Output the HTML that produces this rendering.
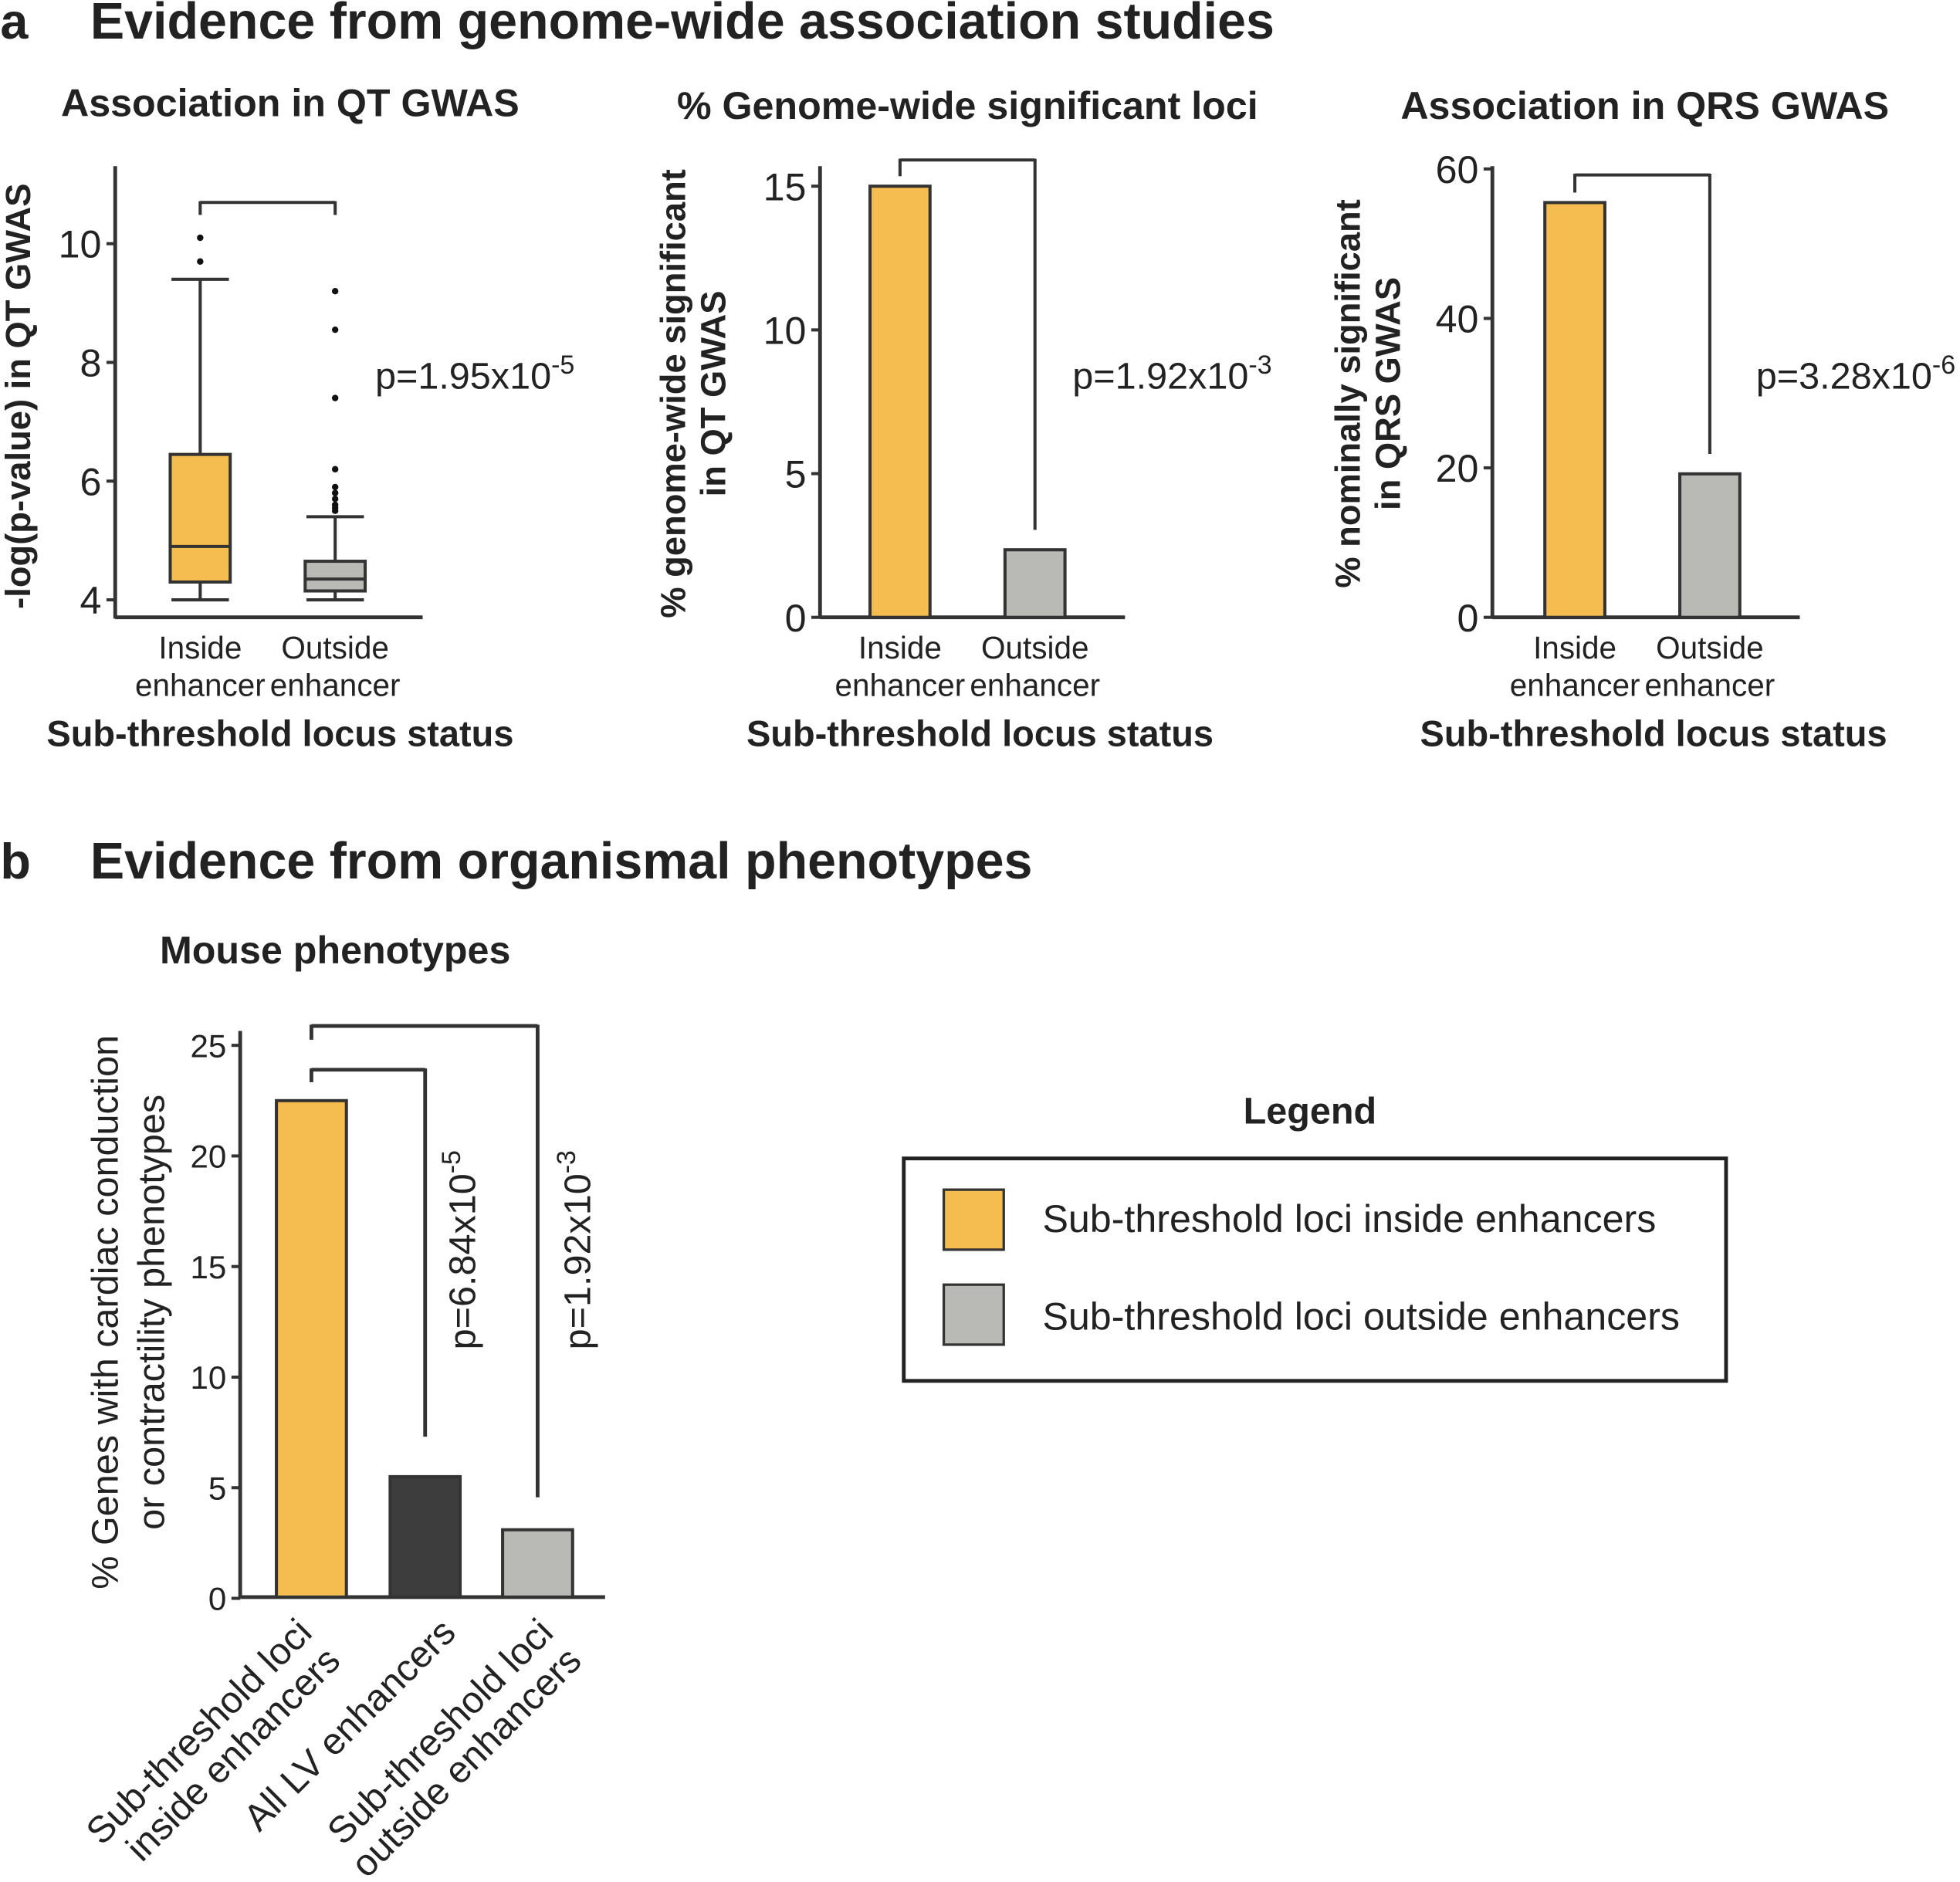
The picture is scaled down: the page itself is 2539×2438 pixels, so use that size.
<!DOCTYPE html>
<html><head><meta charset="utf-8">
<style>
html,body{margin:0;padding:0;background:#fff;}
svg{display:block;font-family:"Liberation Sans",Arial,sans-serif;}
</style></head>
<body>
<svg id="fig" width="2539" height="2438" viewBox="0 0 1568 1506" xmlns="http://www.w3.org/2000/svg">
<g>
<text x="0" y="31" font-size="40" font-weight="bold" fill="#222">a</text>
<text x="72" y="31" font-size="41" font-weight="bold" fill="#222">Evidence from genome-wide association studies</text>
</g>
<g>
<text x="0" y="703" font-size="40" font-weight="bold" fill="#222">b</text>
<text x="72" y="703" font-size="41" font-weight="bold" fill="#222">Evidence from organismal phenotypes</text>
</g>
<g id="g1"></g>
<g id="g2"></g>
<g id="g3"></g>
<g id="g4"></g>
<g>
<text x="1048" y="899" font-size="30" font-weight="bold" text-anchor="middle" fill="#222">Legend</text>
<rect x="723" y="927" width="658" height="178" fill="none" stroke="#222" stroke-width="3"/>
<rect x="755" y="952" width="48" height="48" fill="#f5bd50" stroke="#333" stroke-width="2"/>
<text x="834" y="986" font-size="31" fill="#222">Sub-threshold loci inside enhancers</text>
<rect x="755" y="1028" width="48" height="48" fill="#b9bab5" stroke="#333" stroke-width="2"/>
<text x="834" y="1064" font-size="31" fill="#222">Sub-threshold loci outside enhancers</text>
</g>
</svg>
<script>
// ---- data ----
const boxCats = ["Inside", "Outside"];
const boxQ1 = [4.3, 4.15];
const boxMed = [4.9, 4.35];
const boxQ3 = [6.45, 4.65];
const boxLo = [4.0, 4.0];
const boxHi = [9.4, 5.4];
const outInside = [9.7, 10.1];
const outOutside = [5.5, 5.55, 5.6, 5.7, 5.8, 5.9, 6.2, 7.4, 8.55, 9.2];
const boxTicks = [4, 6, 8, 10];

const gwValues = [15, 2.35];
const gwTicks = [0, 5, 10, 15];
const qrsValues = [55.5, 19.2];
const qrsTicks = [0, 20, 40, 60];

const mouseCats = ["Sub-threshold loci|inside enhancers", "All LV enhancers", "Sub-threshold loci|outside enhancers"];
const mouseValues = [22.5, 5.5, 3.1];
const mouseTicks = [0, 5, 10, 15, 20, 25];

const NS = "http://www.w3.org/2000/svg";
const ORANGE = "#f5bd50", GRAY = "#b9bab5", DARK = "#3d3d3d", INK = "#333";
function mk(parent, tag, attrs, text) {
  const e = document.createElementNS(NS, tag);
  for (const k in attrs) e.setAttribute(k, attrs[k]);
  if (text !== undefined) e.textContent = text;
  parent.appendChild(e);
  return e;
}
function line(p, x1, y1, x2, y2, w) { return mk(p, "line", {x1, y1, x2, y2, stroke: INK, "stroke-width": w || 2.5}); }
function pText(p, x, y, base, exp, rot) {
  const t = mk(p, "text", {x, y, "font-size": 30, fill: "#222"});
  if (rot) t.setAttribute("transform", rot);
  
  
  mk(t, "tspan", {}, base);
  mk(t, "tspan", {dy: -12, "font-size": 21}, exp);
  return t;
}
function axes(g, x0, yTop, yBot, xEnd, ticks, yf, fs) {
  const a = mk(g, "g", {});
  
  
  line(a, x0, yTop, x0, yBot + 1, 3);
  ticks.forEach(v => {
    line(a, x0 - 7, yf(v), x0, yf(v), 2.5);
    const t = mk(a, "text", {x: x0 - 11, y: yf(v) + fs * 0.36, "font-size": fs, "text-anchor": "end", fill: "#222"}, String(v));
    
    
  });
  const xa = mk(g, "line", {x1: x0, y1: yBot, x2: xEnd, y2: yBot, stroke: INK, "stroke-width": 3});
  
  
}
function title(g, x, y, s) {
  const t = mk(g, "text", {x, y, "font-size": 31, "font-weight": "bold", "text-anchor": "middle", fill: "#222"}, s);
  
  
}
function ylab(g, x, y, lines, bold, fs) {
  lines.forEach((s, i) => {
    const t = mk(g, "text", {x: 0, y: 0, "font-size": fs, "font-weight": bold ? "bold" : "normal", "text-anchor": "middle", fill: "#222", transform: `translate(${x[i]},${y}) rotate(-90)`}, s);
    
    
  });
}
function xcats(g, xs) {
  xs.forEach((x, i) => {
    const t1 = mk(g, "text", {x, y: 527, "font-size": 25, "text-anchor": "middle", fill: "#222"}, i === 0 ? "Inside" : "Outside");
    
    
    const t2 = mk(g, "text", {x, y: 557, "font-size": 25, "text-anchor": "middle", fill: "#222"}, "enhancer");
    
    
  });
}
function xtitle(g, x) {
  const t = mk(g, "text", {x, y: 597, "font-size": 29, "font-weight": "bold", "text-anchor": "middle", fill: "#222"}, "Sub-threshold locus status");
  
  
}

// ---- panel 1: boxplot ----
(function () {
  const g = document.getElementById("g1");
  const y = v => 480 - (v - 4) * 47.5;
  title(g, 232, 93, "Association in QT GWAS");
  axes(g, 92, 133, 494, 338, boxTicks, y, 31);
  const cx = [160, 268], fills = [ORANGE, GRAY];
  const outs = [outInside, outOutside];
  boxCats.forEach((c, i) => {
    const b = mk(g, "g", {});
    
    
    line(b, cx[i], y(boxLo[i]), cx[i], y(boxQ1[i]));
    line(b, cx[i], y(boxQ3[i]), cx[i], y(boxHi[i]));
    line(b, cx[i] - 23, y(boxLo[i]), cx[i] + 23, y(boxLo[i]));
    line(b, cx[i] - 23, y(boxHi[i]), cx[i] + 23, y(boxHi[i]));
    mk(b, "rect", {x: cx[i] - 24, y: y(boxQ3[i]), width: 48, height: y(boxQ1[i]) - y(boxQ3[i]), fill: fills[i], stroke: INK, "stroke-width": 2.5});
    line(b, cx[i] - 24, y(boxMed[i]), cx[i] + 24, y(boxMed[i]));
    outs[i].forEach(v => {
      const d = mk(b, "circle", {cx: cx[i], cy: y(v), r: 2.6, fill: "#111"});
      
      
    });
  });
  line(g, 160, 162, 268, 162); line(g, 160, 161, 160, 172); line(g, 268, 161, 268, 172);
  pText(g, 300, 311, "p=1.95x10", "-5");
  ylab(g, [24], 317, ["-log(p-value) in QT GWAS"], true, 28);
  xcats(g, cx); xtitle(g, 224);
})();

function barPanel(id, x0, xEnd, ticks, yf, values, cx, brY, ttl, tx, lab, labX, pBase, pExp, pX) {
  const g = document.getElementById(id);
  title(g, tx, 95, ttl);
  axes(g, x0, 133, 494, xEnd, ticks, yf, 31);
  const fills = [ORANGE, GRAY];
  values.forEach((v, i) => {
    const r = mk(g, "rect", {x: cx[i] - 24, y: yf(v), width: 48, height: 494 - yf(v), fill: fills[i], stroke: INK, "stroke-width": 2.5});
    
    
  });
  line(g, cx[0], brY, cx[1], brY);
  line(g, cx[0], brY - 1, cx[0], yf(values[0]) - 8);
  line(g, cx[1], brY - 1, cx[1], yf(values[1]) - 16);
  pText(g, pX, 311, pBase, pExp);
  ylab(g, labX, 315, lab, true, 28);
  xcats(g, cx); xtitle(g, (x0 + xEnd) / 2 + 6);
}
barPanel("g2", 656, 900, gwTicks, v => 494 - v * 23, gwValues, [720, 828], 128,
  "% Genome-wide significant loci", 774, ["% genome-wide significant", "in QT GWAS"], [548, 580], "p=1.92x10", "-3", 858);
barPanel("g3", 1194, 1440, qrsTicks, v => 494 - v * 5.98, qrsValues, [1260, 1368], 140,
  "Association in QRS GWAS", 1316, ["% nominally significant", "in QRS GWAS"], [1088, 1120], "p=3.28x10", "-6", 1405);

// ---- panel b: mouse ----
(function () {
  const g = document.getElementById("g4");
  const y = v => 1279 - v * 17.7;
  title(g, 268, 771, "Mouse phenotypes");
  axes(g, 192, 825, 1278, 484, mouseTicks, y, 26);
  const cx = [249, 340, 430], fills = [ORANGE, DARK, GRAY];
  const labShift = [2, 26, 14];
  mouseValues.forEach((v, i) => {
    const r = mk(g, "rect", {x: cx[i] - 28, y: y(v), width: 56, height: 1278 - y(v), fill: fills[i], stroke: INK, "stroke-width": 2.5});
    
    
    const parts = mouseCats[i].split("|");
    const t = mk(g, "text", {x: 0, y: 0, "font-size": 30, "text-anchor": "end", fill: "#222", transform: `translate(${cx[i] + labShift[i]},${1308}) rotate(-45)`});
    
    
    parts.forEach((s, k) => mk(t, "tspan", {x: 0, dy: k ? 32 : 0}, s));
  });
  line(g, cx[0], 856, cx[1], 856, 3); line(g, cx[0], 855, cx[0], 866, 3); line(g, cx[1], 855, cx[1], y(mouseValues[1]) - 32, 3);
  line(g, cx[0], 821, cx[2], 821, 3); line(g, cx[0], 820, cx[0], 832, 3); line(g, cx[2], 820, cx[2], y(mouseValues[2]) - 26, 3);
  pText(g, 0, 0, "p=6.84x10", "-5", "translate(380,1080) rotate(-90)");
  pText(g, 0, 0, "p=1.92x10", "-3", "translate(472,1080) rotate(-90)");
  ylab(g, [94, 131], 1050, ["% Genes with cardiac conduction", "or contractility phenotypes"], false, 30);
})();
</script>
</body></html>
